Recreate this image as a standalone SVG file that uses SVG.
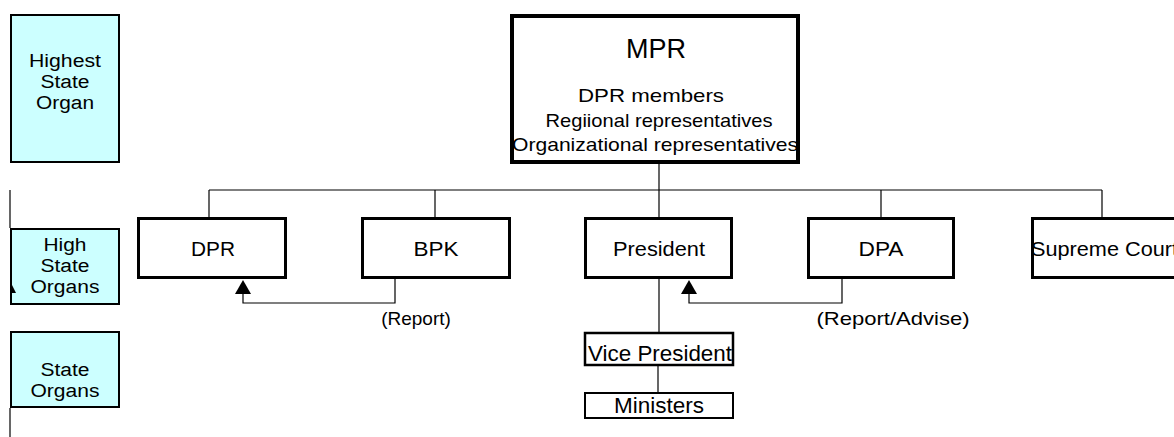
<svg xmlns="http://www.w3.org/2000/svg" width="1174" height="437" viewBox="0 0 1174 437">
<style>
text{font-family:"Liberation Sans",Arial,sans-serif;fill:#000}
.lbl rect{fill:#CCFFFF;stroke:#000;stroke-width:2}
.lbl text{font-size:18px;text-anchor:middle}
.node rect{fill:#fff;stroke:#000;stroke-width:3}
.node text{font-size:21px;text-anchor:middle}
.conn line,.conn polyline{stroke:#000;stroke-width:1.2;fill:none}
.ah{fill:#000;stroke:none}
.note{font-size:19px;text-anchor:middle}
</style>
<defs/>
<g id="lbl-highest" class="lbl">
<rect x="11" y="15" width="108" height="147"/>
<text x="65" y="67" textLength="72" lengthAdjust="spacingAndGlyphs">Highest</text>
<text x="65" y="88" textLength="49" lengthAdjust="spacingAndGlyphs">State</text>
<text x="65" y="109" textLength="58" lengthAdjust="spacingAndGlyphs">Organ</text>
</g>
<g id="lbl-high" class="lbl">
<rect x="11" y="229" width="108" height="75"/>
<text x="65" y="251" textLength="43" lengthAdjust="spacingAndGlyphs">High</text>
<text x="65" y="272" textLength="49" lengthAdjust="spacingAndGlyphs">State</text>
<text x="65" y="293" textLength="69" lengthAdjust="spacingAndGlyphs">Organs</text>
</g>
<g id="lbl-state" class="lbl">
<rect x="11" y="332" width="108" height="75"/>
<text x="65" y="376" textLength="49" lengthAdjust="spacingAndGlyphs">State</text>
<text x="65" y="397" textLength="69" lengthAdjust="spacingAndGlyphs">Organs</text>
</g>
<g id="side-marks" class="conn">
<line x1="10" y1="190" x2="10" y2="228"/>
<line x1="10" y1="408" x2="10" y2="437"/>
<polygon class="ah" points="10,281 16,293 10,293"/>
</g>
<g id="connectors" class="conn">
<line x1="659" y1="164" x2="659" y2="190"/>
<line x1="209" y1="190" x2="1102" y2="190"/>
<line x1="209" y1="190" x2="209" y2="217"/>
<line x1="435" y1="190" x2="435" y2="217"/>
<line x1="659" y1="190" x2="659" y2="217"/>
<line x1="881" y1="190" x2="881" y2="217"/>
<line x1="1102" y1="190" x2="1102" y2="217"/>
<polyline points="395,279 395,303 243,303 243,293"/>
<polygon class="ah" points="243,280 235,294 251,294"/>
<polyline points="842,279 842,303 689,303 689,293"/>
<polygon class="ah" points="689,280 681,294 697,294"/>
<line x1="659" y1="279" x2="659" y2="332"/>
<line x1="658" y1="366" x2="658" y2="392"/>
</g>
<g id="mpr" class="node">
<rect x="512" y="16" width="286" height="146" style="stroke-width:4"/>
<text x="656" y="58" style="font-size:27px" textLength="60" lengthAdjust="spacingAndGlyphs">MPR</text>
<text x="651" y="102" style="font-size:19px" textLength="146" lengthAdjust="spacingAndGlyphs">DPR members</text>
<text x="659" y="127" style="font-size:19px" textLength="227" lengthAdjust="spacingAndGlyphs">Regiional representatives</text>
<text x="655" y="151" style="font-size:19px" textLength="286" lengthAdjust="spacingAndGlyphs">Organizational representatives</text>
</g>
<g id="dpr" class="node">
<rect x="138.5" y="218.5" width="147" height="59"/>
<text x="213" y="256" textLength="44" lengthAdjust="spacingAndGlyphs">DPR</text>
</g>
<g id="bpk" class="node">
<rect x="362.5" y="218.5" width="147" height="59"/>
<text x="436" y="256" textLength="45" lengthAdjust="spacingAndGlyphs">BPK</text>
</g>
<g id="president" class="node">
<rect x="585.5" y="218.5" width="146" height="59"/>
<text x="659" y="256" textLength="92" lengthAdjust="spacingAndGlyphs">President</text>
</g>
<g id="dpa" class="node">
<rect x="808.5" y="218.5" width="145" height="59"/>
<text x="881" y="256" textLength="45" lengthAdjust="spacingAndGlyphs">DPA</text>
</g>
<g id="supreme-court" class="node">
<rect x="1032.5" y="218.5" width="200" height="59"/>
<text x="1031" y="256" style="text-anchor:start" textLength="147" lengthAdjust="spacingAndGlyphs">Supreme Court</text>
</g>
<g id="vice-president" class="node">
<rect x="585" y="333" width="148" height="32" style="stroke-width:2.5"/>
<text x="660" y="361" style="font-size:22px" textLength="144" lengthAdjust="spacingAndGlyphs">Vice President</text>
</g>
<g id="ministers" class="node">
<rect x="585" y="393" width="148" height="25" style="stroke-width:2"/>
<text x="659" y="413" style="font-size:22px" textLength="90" lengthAdjust="spacingAndGlyphs">Ministers</text>
</g>
<g id="labels">
<text class="note" x="416" y="325">(Report)</text>
<text class="note" x="893" y="325" textLength="153" lengthAdjust="spacingAndGlyphs">(Report/Advise)</text>
</g>
</svg>
